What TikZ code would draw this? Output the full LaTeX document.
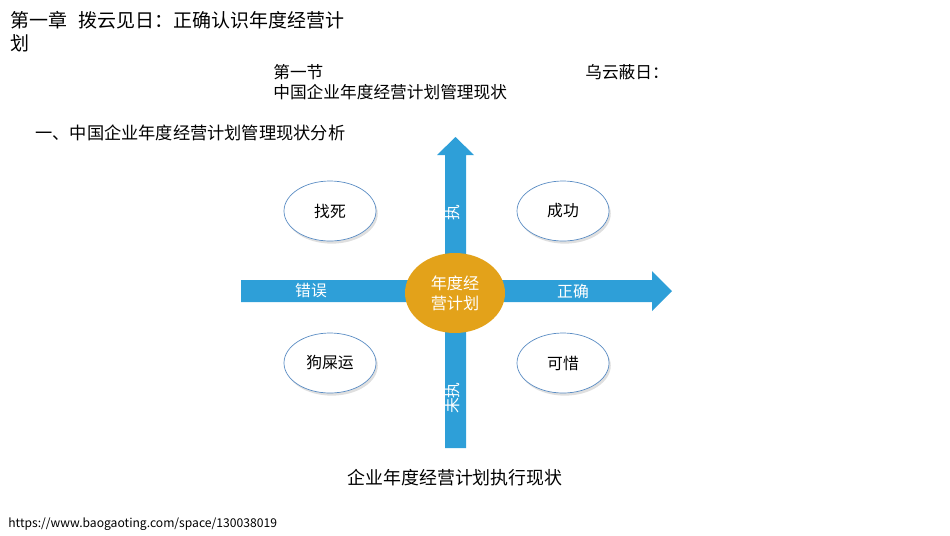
\documentclass[tikz,border=0pt]{standalone}
\usepackage{fontspec}
\setmainfont{Noto Sans CJK SC}
\usetikzlibrary{shadows,shapes.geometric}
\definecolor{arrblue}{HTML}{2E9FD8}
\definecolor{orng}{HTML}{E3A21A}
\definecolor{ebd}{HTML}{5B8DC4}
\begin{document}
\begin{tikzpicture}[x=0.02cm,y=-0.02cm,
  txt/.style={anchor=west,inner sep=0,font=\fontsize{10.8}{12}\selectfont},
  oval/.style={ellipse,draw=ebd,fill=white,minimum width=92*0.02cm,minimum height=60*0.02cm,font=\fontsize{9}{10}\selectfont,drop shadow={opacity=0.25,shadow xshift=1pt,shadow yshift=-1.5pt}},
  lbl/.style={text=white,inner sep=0,font=\fontsize{9}{10}\selectfont}]
\useasboundingbox (0,0) rectangle (950,535);
\node[txt] (t1) at (10,20) {第一章\hspace{0.6em}拨云见日：正确认识年度经营计};
\node[txt] (t2) at (10,43) {划};
\node[txt,font=\fontsize{9.5}{11}\selectfont] (s1) at (273,72) {第一节};
\node[txt,font=\fontsize{9.5}{11}\selectfont] (s2) at (273,92) {中国企业年度经营计划管理现状};
\node[txt,font=\fontsize{9.5}{11}\selectfont] (s3) at (585,72) {乌云蔽日：};
\node[txt,font=\fontsize{9.8}{11}\selectfont] (h) at (35,133) {一、中国企业年度经营计划管理现状分析};
% arrows
\fill[arrblue] (445,448) -- (445,155) -- (437,155) -- (455.5,137) -- (474,155) -- (466,155) -- (466,448) -- cycle;
\fill[arrblue] (241,280) -- (652,280) -- (652,271) -- (672,291) -- (652,311) -- (652,302) -- (241,302) -- cycle;
\node[ellipse,fill=orng,minimum width=100*0.02cm,minimum height=80*0.02cm,align=center,text=white,font=\fontsize{9.2}{11.5}\selectfont] (c) at (455,293) {年度经\\营计划};
\node[oval] (a) at (330,211) {找死};
\node[oval] (b) at (563,211) {成功};
\node[oval] (d) at (330,363) {狗屎运};
\node[oval] (e) at (563,363) {可惜};
\node[lbl] (l1) at (311,291) {错误};
\node[lbl] (l2) at (573,291) {正确};
\node[lbl,rotate=90] (l3) at (453,213) {执};
\node[lbl,rotate=90] (l4) at (453,398) {未执};
\node[inner sep=0,font=\fontsize{10.2}{12}\selectfont] (cap) at (455,478) {企业年度经营计划执行现状};
\node[txt,font=\fontsize{6.9}{8}\selectfont] (u) at (8,524) {https://www.baogaoting.com/space/130038019};
\end{tikzpicture}
\end{document}
